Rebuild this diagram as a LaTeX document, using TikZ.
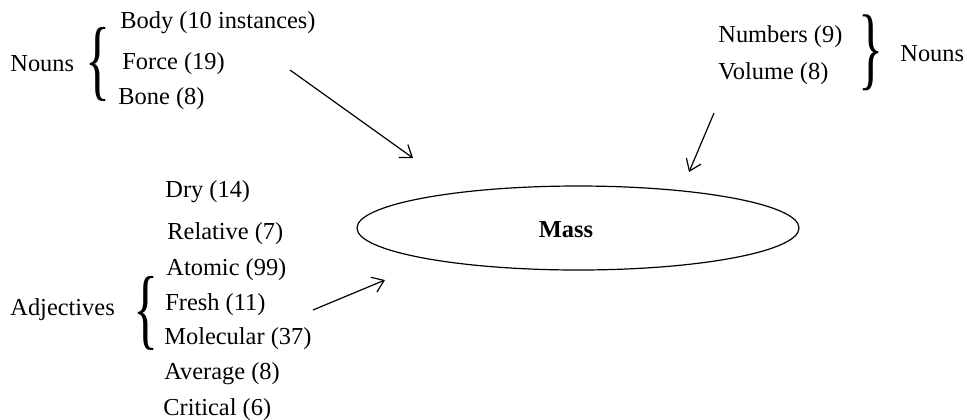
\documentclass[tikz,border=0pt]{standalone}
\usepackage{fontspec}
\setmainfont{Liberation Serif}
\usepackage{graphicx}
\usetikzlibrary{arrows.meta,shapes.geometric}
\tikzset{
  lbl/.style={anchor=west, inner sep=0pt, font=\fontsize{12.2}{14}\selectfont},
  conn/.style={line width=0.6pt, -{Straight Barb[length=5.5pt,width=8pt,line width=0.6pt]}},
  bracebox/.style={inner sep=0pt, font=\fontsize{12.2}{14}\selectfont}
}
\begin{document}
\begin{tikzpicture}[x=0.5pt,y=-0.5pt]
\useasboundingbox (0,0) rectangle (967,419);
% left nouns group
\node[lbl] (nouns1) at (10,64) {Nouns};
\node[bracebox] (brace1) at (98,64) {\resizebox*{12.5pt}{37pt}{\{}};
\node[lbl] (body) at (120,23) {Body (10 instances)};
\node[lbl] (force) at (122,64) {Force (19)};
\node[lbl] (bone) at (118,99) {Bone (8)};
% right nouns group
\node[lbl] (numbers) at (718,37) {Numbers (9)};
\node[lbl] (volume) at (718,74) {Volume (8)};
\node[bracebox] (brace2) at (871,53) {\resizebox*{12.5pt}{38pt}{\}}};
\node[lbl] (nouns2) at (900,54) {Nouns};
% ellipse
\node[draw, ellipse, line width=0.6pt, minimum width=221pt, minimum height=42pt, inner sep=0pt] (mass) at (578,228) {};
\node[inner sep=0pt, font=\fontsize{12.2}{14}\selectfont\bfseries] (masslbl) at (566,230) {Mass};
% adjectives
\node[lbl] (dry) at (165,192) {Dry (14)};
\node[lbl] (relative) at (167,234) {Relative (7)};
\node[lbl] (atomic) at (166,270) {Atomic (99)};
\node[lbl] (fresh) at (165,305) {Fresh (11)};
\node[lbl] (molecular) at (164,339) {Molecular (37)};
\node[lbl] (average) at (164,374) {Average (8)};
\node[lbl] (critical) at (163,410) {Critical (6)};
\node[lbl] (adj) at (10,310) {Adjectives};
\node[bracebox] (brace3) at (146,313) {\resizebox*{12.5pt}{37pt}{\{}};
% arrows
\coordinate (a1s) at (290,70);
\coordinate (a1e) at (413,158);
\coordinate (a2s) at (714,113);
\coordinate (a2e) at (689,172);
\coordinate (a3s) at (313,310);
\coordinate (a3e) at (385,280);
\draw[conn] (a1s) -- (a1e);
\draw[conn] (a2s) -- (a2e);
\draw[conn] (a3s) -- (a3e);
\end{tikzpicture}
\end{document}
